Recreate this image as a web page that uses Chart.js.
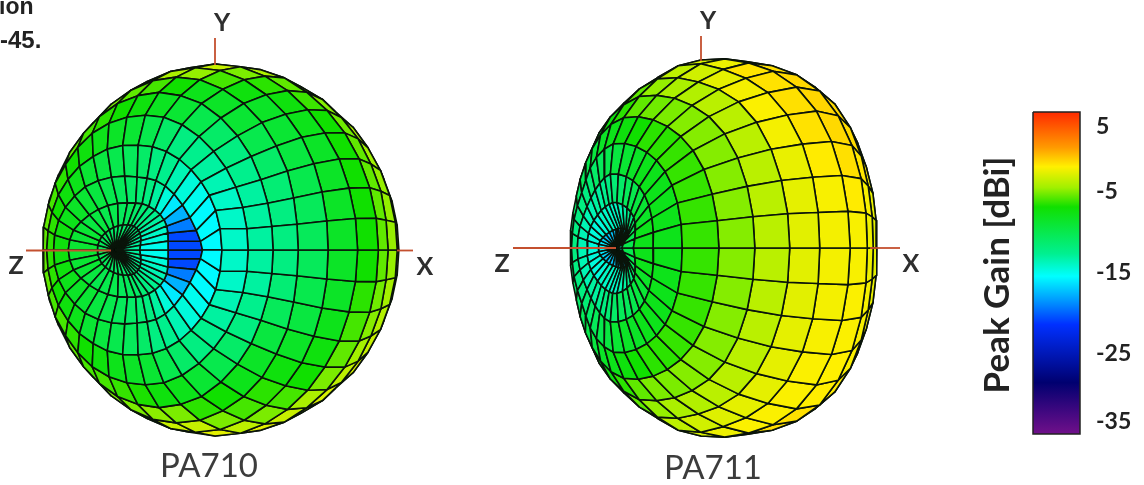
<!DOCTYPE html>
<html><head><meta charset="utf-8">
<style>html,body{margin:0;padding:0;background:#fff}canvas{display:block;filter:blur(0.5px)}</style>
<script src="https://cdn.jsdelivr.net/npm/chart.js@4"></script>
</head><body><canvas id="c" width="1144" height="485"></canvas>
<script>
const barTickLabels = ['5','-5','-15','-25','-35'];
const thetaDeg = [0,10,20,30,40,50,60,70,80,90,100,110,120,130,140];
const phiDeg = [0,10,20,30,40,50,60,70,80,90,100,110,120,130,140,150,160,170,180];
const names = ['PA710','PA711'];
// surface radius per theta row, phi 0..180 (the pattern is mirrored about the XZ plane)
const radius710 = [
[162,162,162,162,162,162,162,162,162,162,162,162,162,162,162,162,162,162,162],
[160,158,155,152,150,148,146,145,144,144,146,148,150,152,154,156,157,158,158],
[152,150,145,140,137,135,135,136,137,137,140,145,150,155,160,165,170,172,173],
[90,100,115,130,140,146,148,148,146,146,150,155,160,165,168,171,173,174,174],
[200,190,180,170,165,163,163,163,163,163,165,167,168,170,171,172,172,172,172],
[159,160,162,164,166,168,171,174,176,176,176,176,176,175,174,174,173,173,172],
[155,156,158,162,168,172,176,180,181,182,181,180,178,176,175,174,174,173,172],
[157,158,162,168,172,177,180,182,184,184,183,181,179,177,176,175,174,173,172],
[169,170,172,175,178,180,182,184,185,185,184,182,180,178,176,175,174,173,172],
[181,181,181,182,182,183,184,185,186,186,185,183,181,179,177,175,174,173,172],
[185,185,185,185,185,185,185,186,186,186,185,183,181,179,177,175,174,173,172],
[182,182,183,183,184,184,185,185,186,186,185,183,181,179,177,175,174,173,172],
[184,184,184,184,184,185,185,185,185,185,185,183,181,179,177,175,174,173,172],
[184,184,184,184,184,185,185,185,185,185,185,183,181,179,177,175,174,173,172],
[184,184,184,184,184,185,185,185,185,185,185,183,181,179,177,175,174,173,172]];
const radius711 = [
[119,119,119,119,119,119,119,119,119,119,119,119,119,119,119,119,119,119,119],
[138,135,130,125,122,120,118,117,116,115,115,115,116,118,120,122,124,125,125],
[160,155,150,145,140,138,136,135,135,133,130,128,127,126,126,126,126,126,125],
[185,180,175,170,165,160,156,152,150,148,143,138,134,131,129,128,128,128,128],
[215,210,205,195,185,178,172,168,165,162,156,150,144,138,134,132,131,130,130],
[205,205,205,205,198,190,183,178,174,170,164,157,150,144,139,135,133,132,131],
[208,208,208,208,205,198,190,184,179,175,168,161,154,147,142,138,135,133,132],
[210,210,210,210,208,203,195,188,184,180,172,164,156,149,144,140,137,134,132],
[207,208,210,211,210,206,199,193,190,185,176,167,158,150,145,141,137,134,132],
[211,211,212,213,213,210,204,197,192,188,178,168,158,150,145,141,137,134,132],
[203,204,206,208,209,208,203,197,192,188,178,168,158,150,145,141,137,134,132],
[190,191,193,196,199,200,198,194,190,186,178,168,158,150,145,141,137,134,132],
[182,183,185,187,190,192,192,190,187,183,176,168,158,150,145,141,137,134,132],
[175,176,178,180,183,186,187,186,184,181,175,168,158,150,145,141,137,134,132],
[172,173,175,178,181,184,185,184,182,180,175,168,158,150,145,141,137,134,132]];
// peak gain [dBi] of each mesh cell: rows = theta bands, columns = phi bands 0-10 ... 350-360
const gain710 = [
[-13,-13,-13,-12.5,-12,-12,-12,-11.5,-11.5,-11,-11,-11,-11,-10.5,-10.5,-10.5,-10.5,-10.5,-10.5,-10.5,-10.5,-10.5,-10.5,-11,-11,-11,-11,-11.5,-11.5,-12,-12,-12,-12.5,-13,-13,-13],
[-15,-14.5,-14,-13.5,-13,-12.5,-12,-11.5,-11,-10.5,-10.5,-10,-10,-9.5,-9.5,-9,-9,-9,-9,-9,-9,-9.5,-10,-10,-10,-10.5,-10.5,-11,-11.5,-12,-12.5,-13,-13.5,-14,-14.5,-15],
[-20.5,-20.5,-19,-17.5,-16,-14.5,-13,-12,-11.5,-11,-10.5,-10,-9.5,-9,-8.5,-8,-7.5,-7.5,-7.5,-7.5,-8,-8.5,-9,-9.5,-10,-10.5,-11,-11.5,-12,-13,-14.5,-16,-17.5,-19,-20.5,-20.5],
[-15.5,-15.5,-15.5,-15,-14.5,-13.5,-12.5,-12,-11,-10.5,-10,-9.5,-9,-8,-7.5,-7,-6.5,-6.5,-6.5,-6.5,-7,-7.5,-8,-9,-9.5,-10,-10.5,-11,-12,-12.5,-13.5,-14.5,-15,-15.5,-15.5,-15.5],
[-14,-14,-14,-13.5,-13,-12.5,-12,-11,-10,-9,-8.5,-8,-7.5,-7,-6.5,-6,-5.5,-5.5,-5.5,-5.5,-6,-6,-6.5,-7,-7.5,-8,-8.5,-9,-10,-11,-12,-12.5,-13,-13.5,-14,-14],
[-13,-13,-13,-12.5,-12,-11,-10,-9,-8.3,-7.5,-7,-6.5,-6,-5.5,-5,-5,-5,-5,-5,-5,-5,-5,-5.5,-6,-6,-6.3,-6.8,-7.5,-8,-9,-10,-11,-12,-12.5,-13,-13],
[-12,-12,-11.5,-11,-10,-9,-8.5,-8,-7,-6,-5.5,-5,-5,-4.5,-4.5,-4.5,-4.5,-4.5,-4.5,-4.5,-4.5,-4.5,-4.5,-4.5,-5,-5,-4.7,-5,-6.5,-7,-8,-8.5,-9.5,-10.5,-11.5,-12],
[-10.5,-10.5,-10,-9.5,-9,-8.5,-7.5,-6,-4.5,-4,-4,-4,-4,-4,-4,-4,-4,-4,-4,-4,-4,-4,-4,-4,-4,-3.8,-3.2,-3.3,-5,-6,-6.5,-7.5,-8.5,-9.5,-10,-10.5],
[-8.5,-8.5,-8.5,-8.5,-8,-7.5,-6.5,-5,-3.3,-3,-3.5,-3.5,-3.5,-3.5,-3.5,-3.5,-3.5,-3.5,-3.5,-3.5,-3.5,-3.5,-3.5,-3.5,-3.5,-3,-2.5,-2.5,-3.5,-5,-6,-7,-7.5,-8,-8.5,-8.5],
[-7,-7,-7,-7,-7,-6.2,-5.5,-4,-3,-3,-3,-3,-3,-3,-3,-3,-3,-3,-3,-3,-3,-3,-3,-3,-3,-2.8,-2.3,-2.2,-2.5,-3.2,-4,-5,-5.5,-6,-6.5,-7],
[-5.5,-5.5,-5.5,-5.5,-5.2,-4.8,-4,-3.5,-3,-3,-3,-3,-3,-3,-3,-3,-3,-3,-3,-3,-3,-3,-3,-3,-3,-2.4,-2,-1.8,-1.8,-2.2,-2.8,-3.5,-4.2,-4.8,-5.2,-5.5],
[-4.5,-4.5,-4.5,-4.3,-4,-3.8,-3.5,-3,-3,-3,-3,-3,-3,-3,-3,-3,-3,-3,-3,-3,-3,-3,-3,-3,-3,-2.2,-1.8,-1.5,-1.5,-1.8,-2.3,-2.8,-3.3,-3.8,-4.2,-4.5],
[-3.8,-3.8,-3.8,-3.8,-3.6,-3.4,-3.2,-3,-3,-3,-3,-3,-3,-3,-3,-3,-3,-3,-3,-3,-3,-3,-3,-3,-3,-2.2,-1.8,-1.5,-1.5,-1.8,-2.2,-2.6,-3,-3.4,-3.6,-3.8],
[-3.5,-3.5,-3.5,-3.5,-3.5,-3.3,-3.2,-3,-3,-3,-3,-3,-3,-3,-3,-3,-3,-3,-3,-3,-3,-3,-3,-3,-3,-2.2,-1.8,-1.5,-1.5,-1.8,-2.2,-2.6,-3,-3.3,-3.5,-3.5]];
const gain711 = [
[-14,-14,-14,-14.5,-15,-15.5,-16,-16.5,-17,-17,-17,-17,-17,-17,-17,-16.5,-16,-15.5,-15.5,-16,-16.5,-17,-17,-17,-17,-17,-17,-17,-17,-17,-16,-15.5,-15,-14.5,-14,-14],
[-10,-10,-10.5,-11,-12,-12.5,-13,-13.5,-14,-14,-14,-14,-14,-14.5,-14.5,-14.5,-14.5,-14.5,-14.5,-14.5,-14.5,-14.5,-14.5,-14,-14,-14,-14,-14,-13.5,-13,-12.5,-12,-11,-10.5,-10,-10],
[-8,-8,-8.5,-9,-9.5,-10,-10.5,-11,-11.5,-12,-12.5,-13,-13,-13.5,-13.5,-13.5,-13.5,-13.5,-13.5,-13.5,-13.5,-13.5,-13,-13,-12.5,-12,-11.5,-11,-10.5,-10.5,-10,-9.5,-9,-8.5,-8,-8],
[-8,-8,-8,-8,-8,-8,-8.5,-9,-9.5,-10,-10.5,-11,-11.5,-12,-12,-12,-12,-12,-12,-12,-12,-12,-11.5,-11,-10.5,-10,-9.5,-9,-8.5,-8.5,-8,-8,-8,-8,-8,-8],
[-6.3,-6.3,-6.3,-6.3,-6.3,-6.5,-6.5,-7,-7.5,-8,-8.5,-9.5,-10,-10.5,-11,-11,-11,-11,-11,-11,-11,-11,-10.5,-10,-9.5,-8.5,-8,-7.5,-7,-6.5,-6.5,-6.3,-6.3,-6.3,-6.3,-6.3],
[-4.8,-4.8,-4.8,-4.8,-4.8,-4.8,-5,-5.2,-5.5,-6.5,-7.5,-8.5,-9,-9.5,-10,-10,-10,-10,-10,-10,-10,-10,-9.5,-9,-8.5,-7.5,-6.5,-5.5,-5,-5,-4.8,-4.8,-4.8,-4.8,-4.8,-4.8],
[-3.6,-3.6,-3.6,-3.6,-3.6,-3.6,-3.8,-4,-4.5,-5.5,-6.5,-7.5,-8,-8.5,-9,-9,-9,-9,-9,-9,-9,-9,-8.5,-8,-7.5,-6.5,-5.5,-4.5,-4,-3.8,-3.6,-3.6,-3.6,-3.6,-3.6,-3.6],
[-2.5,-2.4,-2.3,-2,-1.8,-2,-2.4,-3,-3.5,-4.5,-5.5,-6.5,-7,-7.5,-8,-8,-8,-8,-8,-8,-8,-8,-7.5,-7,-6.5,-5.5,-4.5,-3.5,-3,-2.6,-2.4,-2.4,-2.4,-2.4,-2.5,-2.5],
[-2,-1.9,-1.5,-1.1,-1,-1.1,-1.2,-2.2,-2.8,-3.5,-4.5,-5.5,-6.5,-7,-7.5,-7.5,-7.5,-7.5,-7.5,-7.5,-7.5,-7.5,-7,-6.5,-5.5,-4.5,-3.5,-2.8,-2.2,-1.8,-1.8,-1.8,-1.8,-1.9,-2,-2],
[-1.9,-1.5,-1,-0.7,-0.6,-0.7,-1,-1.8,-2.5,-3.5,-4.5,-5.5,-6.5,-7,-7.5,-7.5,-7.5,-7.5,-7.5,-7.5,-7.5,-7.5,-7,-6.5,-5.5,-4.5,-3.5,-2.5,-1.5,-0.9,-1,-1.6,-1.7,-1.8,-1.8,-1.9],
[-2.2,-1.9,-1.3,-0.8,-0.7,-0.8,-1,-1.5,-2.2,-3.5,-4.5,-5.5,-6.5,-7,-7.5,-7.5,-7.5,-7.5,-7.5,-7.5,-7.5,-7.5,-7,-6.5,-5.5,-4.5,-3.5,-2.2,-1.5,-1,-1,-1.5,-1.8,-1.9,-2,-2.2],
[-2.5,-2.3,-1.8,-1.1,-0.9,-0.9,-0.9,-1.1,-1.8,-3.5,-4.5,-5.5,-6.5,-7,-7.5,-7.5,-7.5,-7.5,-7.5,-7.5,-7.5,-7.5,-7,-6.5,-5.5,-4.5,-3.5,-1.8,-1.3,-1,-1,-1.4,-1.8,-2,-2.3,-2.5],
[-2.8,-2.8,-2.3,-1.8,-1.3,-1.2,-1.1,-1.1,-1.6,-3.5,-4.5,-5.5,-6.5,-7,-7.5,-7.5,-7.5,-7.5,-7.5,-7.5,-7.5,-7.5,-7,-6.5,-5.5,-4.5,-3.5,-1.8,-1.3,-1,-1,-1.4,-1.8,-2.3,-2.8,-2.8],
[-2.8,-2.8,-2.3,-1.8,-1.3,-1.2,-1.1,-1.1,-1.6,-3.5,-4.5,-5.5,-6.5,-7,-7.5,-7.5,-7.5,-7.5,-7.5,-7.5,-7.5,-7.5,-7,-6.5,-5.5,-4.5,-3.5,-1.8,-1.3,-1,-1,-1.4,-1.8,-2.3,-2.8,-2.8]];

const colorStops = [[6.5,[255,42,0]],[2,[255,154,0]],[-1.7,[255,240,0]],[-4.3,[160,240,0]],[-7,[16,224,0]],[-12.6,[0,240,144]],[-15.4,[0,255,255]],[-18,[0,160,255]],[-21.2,[0,48,255]],[-28,[0,0,112]],[-32,[64,8,128]],[-36,[112,16,138]]];
function gainColor(g){
  for(let i=0;i<colorStops.length-1;i++){
    const [a,ca]=colorStops[i],[b,cb]=colorStops[i+1];
    if(g<=a&&g>=b){const t=(a-g)/(a-b);return 'rgb('+ca.map((v,k)=>Math.round(v+(cb[k]-v)*t)).join(',')+')';}
  }
  return 'rgb(255,42,0)';
}
const rad=Math.PI/180;
function meshDatasets(radius,gain,view){
  const node=(i,j)=>{
    const ph=(j%36)*10, m=ph<=180?ph/10:36-ph/10;
    const r=radius[i][m], t=thetaDeg[i]*rad, p=ph*rad, a=view.tilt*rad;
    return {x:view.ox+r*(Math.sin(t)*Math.cos(p)*Math.cos(a)-Math.cos(t)*Math.sin(a)),
            y:view.oy-r*Math.sin(t)*Math.sin(p),
            d:r*(Math.sin(t)*Math.cos(p)*Math.sin(a)+Math.cos(t)*Math.cos(a))};
  };
  const cells=[];
  gain.forEach((row,i)=>row.forEach((g,j)=>{
    const pts=[node(i,j),node(i+1,j),node(i+1,j+1),node(i,j+1)];
    const d=pts.reduce((s,q)=>s+q.d,0)/4;
    if(Math.max(...pts.map(q=>q.d))<=0)return;
    cells.push({d,g,pts});
  }));
  return cells.sort((u,v)=>v.d-u.d).map(c=>({
    data:[...c.pts,c.pts[0]].map(q=>({x:q.x,y:q.y})),
    showLine:true,fill:'shape',pointRadius:0,borderWidth:1.6,borderColor:'#0a140a',
    borderJoinStyle:'round',backgroundColor:gainColor(c.g),tension:0
  }));
}
function segment(pts,color,w){return {data:pts,showLine:true,fill:false,pointRadius:0,borderWidth:w||1.8,borderColor:color,tension:0};}
const axisRed='#c4502f';
const grad=document.createElement('canvas').getContext('2d').createLinearGradient(0,112,0,434);
[[0,'#ff2a00'],[0.11,'#ff9a00'],[0.17,'#fff000'],[0.235,'#a0f000'],[0.295,'#10e000'],[0.44,'#00f090'],[0.51,'#00ffff'],[0.58,'#00a0ff'],[0.66,'#0030ff'],[0.84,'#000070'],[0.93,'#400880'],[1,'#70108a']].forEach(s=>grad.addColorStop(s[0],s[1]));
const bar={data:[{x:1033,y:112},{x:1080,y:112},{x:1080,y:434},{x:1033,y:434},{x:1033,y:112}],showLine:true,fill:'shape',pointRadius:0,borderWidth:1.5,borderColor:'#222',backgroundColor:grad,tension:0};

const datasets=[
  segment([{x:26,y:250.5},{x:111,y:250.5}],axisRed),
  segment([{x:397,y:250.5},{x:413,y:250.5}],axisRed),
  segment([{x:215,y:38},{x:215,y:65}],axisRed),
  segment([{x:513,y:248},{x:616,y:248}],axisRed),
  segment([{x:870,y:248},{x:900,y:248}],axisRed),
  segment([{x:701,y:36},{x:701,y:61}],axisRed),
  ...meshDatasets(radius710,gain710,{ox:215,oy:250,tilt:38}),
  ...meshDatasets(radius711,gain711,{ox:701,oy:248,tilt:45}),
  bar
];
const labels=[
  {t:'ion',x:-1,y:8,f:'bold 23px "Liberation Sans"',c:'#222'},
  {t:'-45.',x:0,y:41,f:'bold 24px "Liberation Sans"',c:'#222'},
  {t:'Y',x:222,y:23,f:'bold 25px Lato',c:'#2e2e2e',a:'center'},
  {t:'Z',x:16,y:266,f:'bold 25px Lato',c:'#2e2e2e',a:'center'},
  {t:'X',x:425,y:267,f:'bold 25px Lato',c:'#2e2e2e',a:'center'},
  {t:'Y',x:708,y:21,f:'bold 25px Lato',c:'#2e2e2e',a:'center'},
  {t:'Z',x:502,y:264,f:'bold 25px Lato',c:'#2e2e2e',a:'center'},
  {t:'X',x:911,y:264,f:'bold 25px Lato',c:'#2e2e2e',a:'center'},
  {t:names[0],x:209,y:466,f:'33px Lato',c:'#3c3c3c',a:'center'},
  {t:names[1],x:713,y:468,f:'33px Lato',c:'#3c3c3c',a:'center'},
  {t:'Peak Gain [dBi]',x:998,y:275,f:'bold 35px Lato',c:'#222',a:'center',rot:-90}
];
const textPlugin={id:'texts',afterDraw(ch){
  const ctx=ch.ctx;
  labels.forEach(l=>{ctx.save();ctx.translate(l.x,l.y);if(l.rot)ctx.rotate(l.rot*rad);
    ctx.font=l.f;ctx.fillStyle=l.c;ctx.textAlign=l.a||'left';ctx.textBaseline='middle';ctx.fillText(l.t,0,0);ctx.restore();});
}};
const barTickPx=[127,192,273,354,422];
new Chart(document.getElementById('c'),{
  type:'scatter',
  data:{datasets},
  options:{responsive:false,animation:false,parsing:false,normalized:true,
    layout:{padding:0},
    plugins:{legend:{display:false},tooltip:{enabled:false}},
    scales:{
      x:{type:'linear',display:false,min:0,max:1082},
      y:{type:'linear',position:'right',reverse:true,min:0,max:485,
         afterFit:s=>{s.width=62;s.paddingTop=0;s.paddingBottom=0;},
         afterBuildTicks:s=>{s.ticks=barTickPx.map(v=>({value:v}));},
         grid:{display:false,drawTicks:false},border:{display:false},
         ticks:{autoSkip:false,padding:14,color:'#222',font:{family:'Lato',weight:'bold',size:23},callback:(v,i)=>barTickLabels[i]}}
    }
  },
  plugins:[textPlugin]
});
</script></body></html>
